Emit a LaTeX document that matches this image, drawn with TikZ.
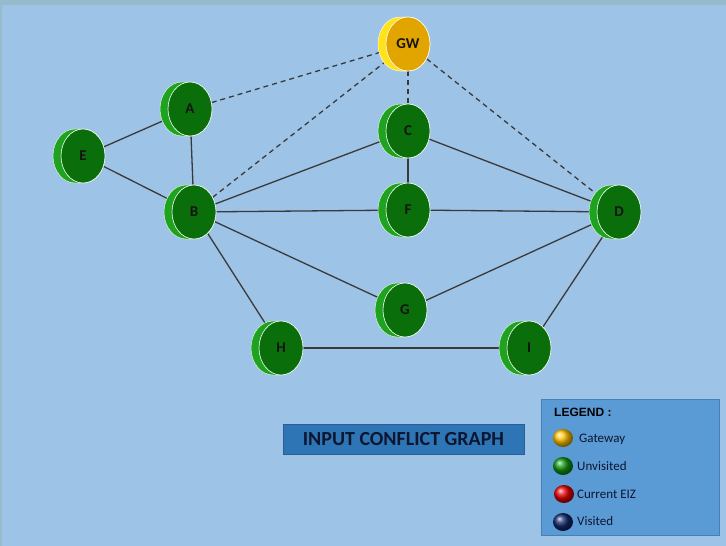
\documentclass[tikz,border=0pt]{standalone}
\usepackage{fontspec}
\setmainfont{Carlito}
\newfontfamily\headfont{Liberation Sans}
\usetikzlibrary{shapes.geometric}

\definecolor{canvas}{HTML}{9DC3E6}
\definecolor{topband}{HTML}{97BBCB}
\definecolor{edgegray}{HTML}{3A3A3A}
\definecolor{greenside}{HTML}{1FA21F}
\definecolor{greenface}{HTML}{0A6F0A}
\definecolor{goldside}{HTML}{FFE21A}
\definecolor{goldface}{HTML}{E2A500}
\definecolor{titlefill}{HTML}{2E75B6}
\definecolor{titleline}{HTML}{2A5F95}
\definecolor{legendfill}{HTML}{5B9BD5}
\definecolor{legendline}{HTML}{4A7FB5}
\definecolor{inkdark}{HTML}{0D1630}

\pgfdeclarelayer{backdrop}
\pgfdeclarelayer{edgelayer}
\pgfsetlayers{backdrop,edgelayer,main}

\tikzset{
  vertexface/.style={ellipse, inner sep=0pt, minimum width=44pt, minimum height=54pt,
    draw=white, line width=0.6pt, text=black!92,
    font=\bfseries\fontsize{15}{17}\selectfont},
  greenvertex/.style={vertexface, fill=greenface},
  goldvertex/.style={vertexface, fill=goldface},
  link/.style={draw=edgegray, line width=1.3pt},
  dashlink/.style={link, dash pattern=on 5pt off 4pt},
  legendball/.style={ellipse, inner sep=0pt, minimum width=20pt, minimum height=18pt, shading=ball},
  legendtext/.style={anchor=west, inner sep=0pt, text=inkdark, font=\fontsize{13}{15}\selectfont},
}

% coin-shaped vertex: side band offset to the left, then the front face node
% #1 name, #2 x, #3 y, #4 label, #5 side colour, #6 face style
\newcommand{\coinvertex}[6]{%
  \fill[#5, draw=white!85!#5, line width=0.5pt]
    (#2-8,#3-27) -- (#2,#3-27)
    arc[start angle=-90, end angle=90, x radius=22, y radius=27]
    -- (#2-8,#3+27)
    arc[start angle=90, end angle=270, x radius=22, y radius=27] -- cycle;
  \node[#6] (#1) at (#2,#3) {#4};%
}

\begin{document}
\begin{tikzpicture}[x=1pt, y=-1pt]
  \useasboundingbox (0,0) rectangle (726,546);
  \begin{pgfonlayer}{backdrop}
    \fill[canvas] (0,0) rectangle (726,546);
    \fill[topband] (0,0) rectangle (726,5);
    \fill[topband] (0,0) rectangle (2,546);
  \end{pgfonlayer}

  % vertices
  \coinvertex{GW}{408}{44}{GW}{goldside}{goldvertex}
  \coinvertex{A}{190}{109}{A}{greenside}{greenvertex}
  \coinvertex{E}{83}{156}{E}{greenside}{greenvertex}
  \coinvertex{B}{194}{212}{B}{greenside}{greenvertex}
  \coinvertex{C}{408}{131}{C}{greenside}{greenvertex}
  \coinvertex{F}{408}{210}{F}{greenside}{greenvertex}
  \coinvertex{D}{619}{212}{D}{greenside}{greenvertex}
  \coinvertex{G}{405}{310}{G}{greenside}{greenvertex}
  \coinvertex{H}{281}{348}{H}{greenside}{greenvertex}
  \coinvertex{I}{529}{348}{I}{greenside}{greenvertex}

  % edges, kept beneath the coins
  \begin{pgfonlayer}{edgelayer}
    \draw[link] (E) -- (A);
    \draw[link] (E) -- (B);
    \draw[link] (A) -- (B);
    \draw[link] (B) -- (C);
    \draw[link] (B) -- (F);
    \draw[link] (B) -- (G);
    \draw[link] (B) -- (H);
    \draw[link] (C) -- (F);
    \draw[link] (C) -- (D);
    \draw[link] (F) -- (D);
    \draw[link] (G) -- (D);
    \draw[link] (H) -- (I);
    \draw[link] (I) -- (D);
    \draw[dashlink] (A) -- (GW);
    \draw[dashlink] (B) -- (GW);
    \draw[dashlink] (GW) -- (C);
    \draw[dashlink] (GW) -- (D);
  \end{pgfonlayer}

  % title banner
  \node[rectangle, fill=titlefill, draw=titleline, line width=0.6pt,
        minimum width=241pt, minimum height=30pt, inner sep=0pt,
        text=inkdark, font=\bfseries\fontsize{20}{22}\selectfont]
        (title) at (403.5,439) {INPUT CONFLICT GRAPH};

  % legend
  \node[rectangle, fill=legendfill, draw=legendline, line width=0.6pt,
        minimum width=178pt, minimum height=136pt, inner sep=0pt]
        (legend) at (630,467) {};
  \node[anchor=west, inner sep=0pt, text=black,
        font=\headfont\bfseries\fontsize{12}{14}\selectfont] (legendhead) at (554,412) {LEGEND :};
  \node[legendball, ball color={rgb,255:red,255;green,196;blue,0}] (ballgw) at (563,438) {};
  \node[legendball, ball color={rgb,255:red,16;green,150;blue,16}] (ballun) at (563,466) {};
  \node[legendball, ball color={rgb,255:red,230;green,0;blue,0}] (ballcur) at (564,494) {};
  \node[legendball, ball color={rgb,255:red,18;green,42;blue,110}] (ballvis) at (563,522) {};
  \node[legendtext] (txtgw) at (579,439) {Gateway};
  \node[legendtext] (txtun) at (577,466) {Unvisited};
  \node[legendtext] (txtcur) at (577,494) {Current EIZ};
  \node[legendtext] (txtvis) at (577,521) {Visited};
\end{tikzpicture}
\end{document}
